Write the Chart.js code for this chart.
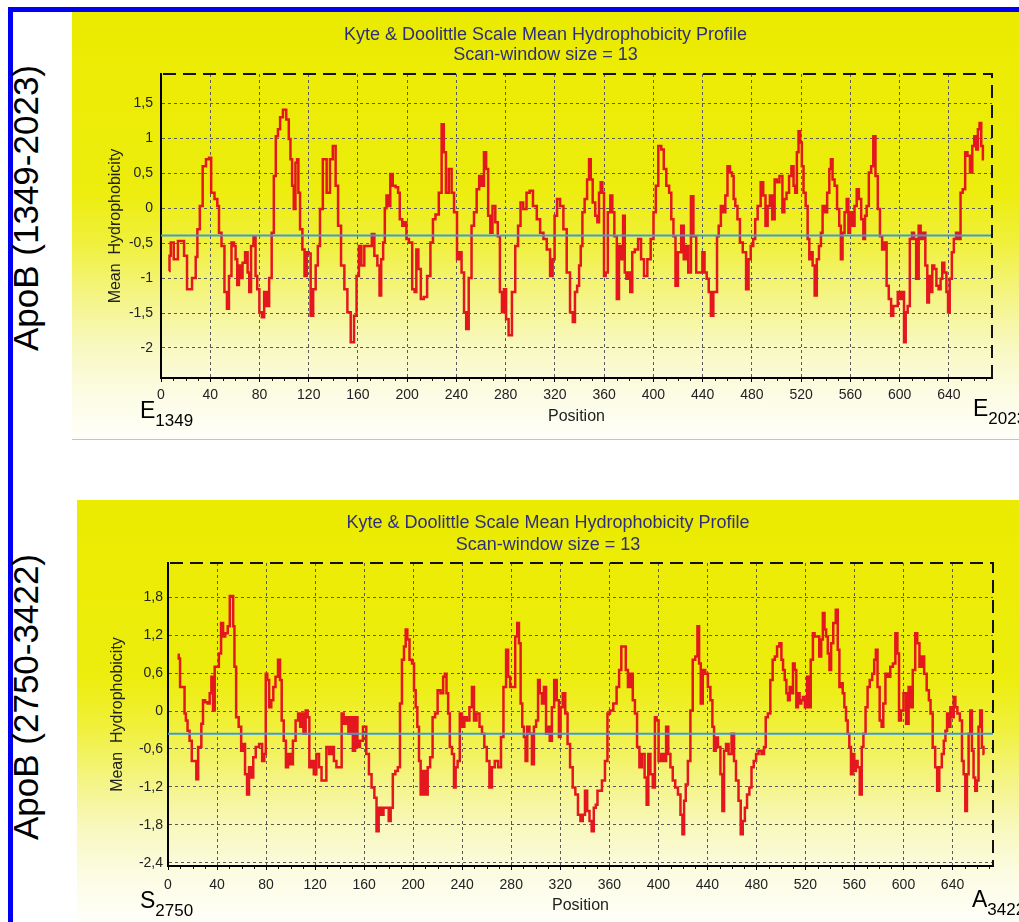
<!DOCTYPE html>
<html>
<head>
<meta charset="utf-8">
<title>Kyte & Doolittle hydrophobicity profiles</title>
<script src="https://cdn.jsdelivr.net/npm/chart.js@4.4.1/dist/chart.umd.min.js"></script>
<style>
  html, body { margin: 0; padding: 0; background: #fff; }
  body { position: relative; width: 1019px; height: 922px; overflow: hidden; font-family: "Liberation Sans", Arial, sans-serif; }
  .blue { position: absolute; background: #0000f2; }
  .panel { position: absolute; background: linear-gradient(to bottom, #ebeb00 0%, #eded0e 42%, #f0f03c 54%, #f4f482 66%, #f8f8c0 78%, #fcfce6 90%, #fffff8 100%); }
  .panel canvas { display: block; }
  .side { position: absolute; width: 340px; height: 40px; line-height: 40px; text-align: center; font-size: 35px; color: #000; transform: rotate(-90deg); white-space: nowrap; }
  .end { position: absolute; font-size: 23px; line-height: 23px; color: #000; white-space: nowrap; }
  .end sub { font-size: 17px; vertical-align: -8px; }
</style>
</head>
<body>
<div class="blue" style="left:8px;top:7px;width:1011px;height:5px;"></div>
<div class="blue" style="left:8px;top:7px;width:5px;height:915px;"></div>

<div class="side" style="left:-144px;top:188px;">ApoB (1349-2023)</div>
<div class="side" style="left:-144px;top:677px;">ApoB (2750-3422)</div>

<div class="panel" style="left:72px;top:12px;width:947px;height:427px;"><canvas id="chart1" width="947" height="427"></canvas></div>
<div style="position:absolute;left:72px;top:439px;width:947px;height:1px;background:#c4c4c4;"></div>
<div class="panel" style="left:77px;top:500px;width:942px;height:422px;"><canvas id="chart2" width="942" height="422"></canvas></div>

<div class="end" style="left:140px;top:399px;">E<sub>1349</sub></div>
<div class="end" style="left:973px;top:397px;">E<sub>2023</sub></div>
<div class="end" style="left:140px;top:889px;">S<sub>2750</sub></div>
<div class="end" style="left:972px;top:888px;">A<sub>3422</sub></div>

<script>
// ApoB (1349-2023): positions and mean hydrophobicity (window 13)
const pos1 = [
  6.5, 7.3, 8.6, 12.1, 15.4, 18.1, 19.4, 22.9, 27.5, 28.9,
  30.2, 32.9, 34.8, 38.3, 39.7, 41.8, 45.1, 46.4, 47.8, 50.5,
  52.6, 54.5, 55.9, 58.6, 59.9, 61.3, 62.6, 64.0, 65.3, 67.2,
  69.4, 71.3, 72.1, 74.2, 76.1, 77.5, 78.8, 81.0, 82.9, 84.7,
  86.9, 88.8, 91.0, 92.3, 94.2, 95.8, 97.7, 100.4, 103.1, 104.5,
  105.8, 107.2, 108.5, 109.9, 111.2, 112.0, 113.9, 115.8, 117.4, 119.3,
  120.6, 122.5, 124.7, 126.6, 128.2, 130.1, 132.8, 136.3, 138.2, 140.9,
  142.8, 144.9, 147.6, 150.3, 152.5, 155.7, 157.9, 159.8, 161.7, 163.8,
  166.5,
  170.3, 172.2, 174.4, 177.1, 177.9, 179.8, 181.1, 182.5, 183.8, 185.2,
  187.3, 189.2, 191.9, 193.3, 194.6, 197.3, 198.7, 200.0, 202.7, 205.4,
  206.7, 208.1, 210.0, 212.1, 214.8, 217.5, 220.2, 221.6, 224.3, 227.0,
  228.9, 230.5, 232.4, 235.1, 237.0, 239.1, 241.8, 243.2, 245.1, 247.2,
  248.6, 251.3, 253.2, 255.3, 257.5, 259.4, 261.3, 263.4, 264.8, 266.7,
  268.3, 270.2, 272.9, 274.2, 276.4, 277.5, 279.6, 281.0, 283.7, 286.4,
  289.1, 291.0, 293.1, 295.3, 298.5, 300.4, 303.9, 306.6, 309.3, 312.0,
  314.7, 317.4, 318.8, 320.6, 322.8, 325.5, 328.2, 330.9, 333.6,
  335.4, 337.1, 338.9, 340.3, 341.6, 343.0, 345.2, 347.0, 348.4, 349.7,
  351.6, 353.8, 355.1, 356.5, 357.8, 359.2, 360.5, 361.9, 364.0, 365.9,
  367.3, 369.2, 371.3, 372.7, 374.8, 375.9, 377.5, 378.6, 380.2, 382.1,
  383.5, 386.2, 388.9, 391.0, 393.7, 396.4, 399.1, 401.0, 402.9, 405.0,
  407.7, 409.1, 411.8, 413.7, 415.3, 417.2, 418.6, 421.2, 423.9, 425.3,
  427.2, 429.4, 431.5, 433.4, 436.1, 438.8, 440.7, 442.3, 444.2, 445.6,
  447.7, 449.6, 451.0, 452.3, 453.7, 455.8, 457.7, 459.1, 461.2, 463.1,
  464.5, 465.8, 467.2, 469.3, 471.2, 473.9, 476.6, 477.9, 480.1, 482.0,
  483.3, 486.0, 488.2, 490.1, 491.9, 493.6, 495.5, 497.4, 499.5, 500.9,
  503.8, 505.7, 507.0, 509.2, 511.1, 513.0, 514.6, 515.7, 517.3, 518.4,
  520.0, 521.1, 522.7, 524.6, 525.9, 527.3, 528.6, 530.0, 531.9, 533.5,
  535.4, 536.7, 538.1, 540.0, 542.2, 543.5, 544.8, 546.2, 548.1, 550.2,
  551.6, 552.9, 554.3, 556.2, 557.8, 558.9, 560.5, 562.4, 564.3, 565.9,
  567.8, 569.7, 571.3, 572.4, 574.0, 575.9, 577.8, 579.4, 581.3, 583.2,
  584.8, 586.7, 588.6, 590.2, 592.1, 594.0, 595.6, 597.5, 599.4, 601.5,
  602.9, 604.2, 605.6, 607.4, 609.1, 611.0, 612.3, 614.5, 616.4, 617.7,
  619.9, 621.8, 623.1, 624.5, 625.8, 627.2, 629.0, 630.7, 632.6, 633.9,
  635.3, 637.2, 638.8, 639.8, 641.5, 643.3, 644.7, 646.9, 648.8, 650.1,
  652.3, 654.1, 656.0, 658.2, 659.8, 661.4, 663.0, 664.1, 665.7, 666.8,
  668.4
];
const val1 = [
  -0.90, -0.68, -0.49, -0.73, -0.47, -0.47, -0.68, -1.16, -1.00, -0.70,
  -0.30, 0.03, 0.60, 0.70, 0.72, 0.22, 0.13, 0.03, -0.35, -0.54,
  -1.20, -1.44, -0.97, -0.49, -0.54, -0.73, -1.10, -0.82, -1.00, -0.78,
  -0.63, -0.92, -1.20, -0.54, -0.40, -0.97, -1.16, -1.49, -1.56, -1.20,
  -1.40, -1.00, -0.35, 0.46, 1.03, 1.13, 1.30, 1.41, 1.27, 0.99,
  0.70, 0.32, -0.01, 0.65, 0.70, 0.22, -0.30, -0.59, -0.97, -0.63,
  -0.65, -1.54, -1.16, -0.82, -0.54, -0.01, 0.70, 0.22, 0.70, 0.89,
  0.32, -0.25, -0.82, -1.16, -1.49, -1.92, -1.54, -0.97, -0.54, -0.82,
  -0.54,
  -0.54, -0.37, -0.68, -0.82, -1.25, -0.73, -0.49, 0.00, 0.18, 0.03,
  0.49, 0.32, 0.30, 0.22, -0.16, -0.25, -0.20, -0.44, -0.49, -1.16,
  -1.20, -0.59, -0.87, -1.30, -1.27, -0.97, -0.49, -0.16, -0.09, 0.22,
  1.20, 0.80, 0.22, 0.56, 0.22, -0.06, -0.73, -0.63, -0.92, -1.49,
  -1.73, -1.00, -0.25, -0.06, 0.27, 0.46, 0.32, 0.80, 0.56, -0.11,
  -0.35, 0.03, -0.20, -0.40, -1.20, -1.49, -1.16, -1.59, -1.82, -1.20,
  -0.54, -0.25, 0.08, -0.01, 0.22, 0.25, 0.03, -0.16, -0.35, -0.44,
  -0.59, -0.97, -0.73, -0.11, 0.13, 0.03, -0.30, -0.92, -1.49,
  -1.63, -1.20, -1.11, -0.82, -0.54, -0.06, 0.13, 0.41, 0.70, 0.41,
  0.08, -0.11, -0.20, 0.22, 0.37, 0.22, -0.97, -0.92, -0.06, 0.18,
  -0.06, -0.40, -1.30, -0.54, -0.73, -0.11, -0.92, -1.01, -0.92, -1.20,
  -0.63, -0.59, -0.44, -0.73, -0.97, -0.73, -0.44, -0.06, 0.32, 0.89,
  0.84, 0.56, 0.32, 0.22, -0.16, -0.40, -1.11, -0.63, -0.25, -0.73,
  -0.54, -0.92, 0.17, -0.40, -0.92, -0.92, -0.63, -0.92, -1.01, -1.20,
  -1.54, -1.20, -1.20, -0.40, -0.25, 0.03, -0.06, 0.18, 0.60, 0.51,
  0.46, 0.13, 0.03, -0.16, -0.49, -0.63, -1.16, -0.73, -0.54, -0.44,
  -0.16, 0.03, 0.37, 0.18, -0.25, 0.03, 0.18, -0.16, 0.41, 0.37,
  0.46, -0.06, 0.13, 0.22, 0.46, 0.60, 0.32, 0.22, 0.80, 1.10,
  0.94, 0.60, 0.22, 0.03, -0.44, -0.73, -0.63, -0.82, -1.25, -0.73,
  -0.54, -0.35, 0.03, -0.06, 0.22, 0.56, 0.70, 0.41, 0.32, -0.01,
  -0.25, -0.73, -0.35, -0.06, 0.13, -0.35, -0.06, -0.25, 0.03, 0.27,
  0.13, -0.16, -0.44, -0.11, 0.03, 0.51, 0.60, 1.03, 0.46, -0.01,
  -0.40, -0.59, -0.49, -1.11, -1.30, -1.54, -1.40, -1.40, -1.20, -1.30,
  -1.20, -1.92, -1.49, -1.40, -0.44, -0.35, -0.44, -1.01, -0.25, -0.44,
  -0.35, -0.82, -1.35, -0.97, -1.20, -0.82, -0.87, -1.11, -1.16, -1.01,
  -0.78, -0.92, -1.20, -1.49, -1.01, -0.63, -0.44, -0.35, -0.44, 0.22,
  0.27, 0.80, 0.75, 0.51, 0.89, 1.03, 0.84, 1.13, 1.22, 0.89,
  0.70
];

// ApoB (2750-3422)
const pos2 = [
  7.9, 9.6, 10.1, 12.8, 14.2, 15.0, 16.9, 18.3, 20.5, 22.4,
  23.8, 25.4, 26.5, 27.9, 29.2, 31.4, 33.3, 34.7, 36.1, 37.4,
  38.8, 40.7, 42.3, 44.3, 45.6, 47.8, 49.7, 51.1, 52.5, 53.8,
  54.6, 56.6, 58.7, 60.7, 62.0, 63.7, 65.3, 66.9, 68.9, 70.2,
  73.0, 75.7, 77.9, 79.2, 80.3, 81.7, 83.3, 85.2, 86.6, 88.8,
  90.7, 92.1, 93.4, 95.4, 97.0, 98.9, 100.8, 103.0, 105.2, 107.1,
  108.5, 109.8, 111.2, 113.4, 114.5, 116.1, 118.0, 119.9, 122.1, 124.3,
  126.2, 128.1, 130.3, 132.5, 134.4, 136.3, 138.5, 140.7, 142.6, 144.0,
  146.2, 148.1, 150.0, 151.6, 153.6, 155.5, 157.7, 160.4, 163.1,
  164.7, 167.4, 169.3, 170.9, 172.8, 174.7, 176.9, 179.1, 181.0, 182.3,
  184.5, 186.4, 188.6, 189.9, 191.8, 193.2, 194.6, 195.9, 198.1, 200.0,
  201.4, 202.7, 204.1, 205.4, 206.8, 209.0, 210.9, 212.8, 214.9, 216.8,
  219.0, 220.9, 223.6, 225.3, 226.4, 228.0, 229.1, 230.7, 232.6, 234.0,
  235.3, 237.2, 238.9, 240.8, 242.7, 244.8, 247.0, 248.9, 250.3, 253.0,
  255.2, 257.1, 259.0, 261.1, 263.3, 265.2, 267.9, 270.7, 272.6, 274.7,
  276.9, 278.0, 280.2, 282.3, 284.2, 285.6, 287.0, 288.3, 289.7, 291.0,
  292.4, 293.8, 295.9, 297.8, 299.2, 301.4, 302.4, 304.1, 306.0, 307.3,
  309.5, 310.6, 312.2, 314.1, 316.0, 318.2, 319.6, 320.9, 323.1, 325.0,
  326.9, 329.1,
  331.2, 333.4, 335.5, 337.4, 339.3, 341.0, 342.9, 344.8, 346.4, 348.3,
  349.7, 351.0, 352.9, 355.1, 357.8, 359.2, 361.9, 364.6, 367.3, 368.7,
  370.9, 372.8, 374.1, 376.3, 378.2, 380.1, 381.7, 383.6, 385.5, 387.7,
  389.9, 391.0, 392.6, 394.5, 396.4, 398.0, 399.1, 401.3, 403.5, 405.4,
  407.3, 408.9, 410.8, 412.7, 414.9, 417.1, 419.0, 420.3, 421.7, 423.0,
  425.2, 427.1, 429.0, 431.2, 432.6, 433.9, 435.3, 437.2, 439.3, 441.5,
  443.4, 444.8, 446.1, 447.5, 449.7, 451.6, 452.9, 454.3, 456.2, 458.4,
  461.1, 462.4, 464.3, 466.5, 467.9, 469.8, 471.4, 473.3, 475.2, 476.8,
  478.8, 480.7, 482.8, 485.5, 486.9, 488.3, 490.4, 492.3, 494.2, 495.9,
  497.8,
  499.7, 501.1, 502.4, 503.8, 505.1, 506.5, 507.8, 509.2, 510.5, 511.9,
  513.2, 514.6, 515.9, 517.3, 518.6, 520.5, 522.2, 523.2, 525.4, 526.8,
  528.1, 530.3, 532.2, 533.5, 534.9, 536.2, 537.6, 538.9, 540.3, 541.6,
  543.8, 545.7, 547.0, 548.4, 549.7, 551.1, 552.4, 553.8, 555.1, 556.5,
  557.8, 559.2, 560.5, 561.9, 563.2, 565.4, 566.5, 568.1, 570.0, 571.4,
  573.5, 575.4, 576.8, 578.1, 579.5, 581.6, 582.7, 584.3, 586.2, 588.1,
  590.3, 592.4, 594.3, 595.7, 597.0, 598.9, 601.1, 603.2, 605.1, 606.5,
  608.6, 610.5, 611.9, 614.1, 615.9, 617.8, 620.0, 621.4, 622.7, 624.9,
  626.8, 628.1, 630.3, 632.2, 633.5, 634.9, 636.2, 637.6, 638.9, 640.3,
  641.6, 643.0, 644.9, 647.0, 648.4, 649.7, 651.1, 652.4, 653.8, 655.1,
  656.5, 657.8, 659.2, 660.5, 661.9, 663.2, 664.6, 665.9
];
const val2 = [
  0.89, 0.83, 0.38, 0.38, -0.04, -0.15, -0.31, -0.47, -0.79, -0.79,
  -1.08, -0.57, -0.57, -0.20, 0.17, 0.14, 0.12, 0.28, 0.54, 0.01,
  0.70, 0.70, 0.91, 1.39, 1.18, 1.23, 1.34, 1.82, 1.82, 1.34,
  0.70, -0.10, -0.25, -0.63, -0.52, -1.00, -1.32, -0.89, -1.05, -0.73,
  -0.57, -0.52, -0.79, -0.68, 0.59, 0.49, 0.06, 0.17, 0.38, 0.54,
  0.81, 0.49, -0.15, -0.47, -0.89, -0.68, -0.84, -0.47, -0.15, -0.04,
  -0.25, -0.04, -0.36, 0.01, -0.10, -0.89, -0.79, -1.00, -0.68, -0.89,
  -1.10, -1.10, -0.57, -0.68, -0.57, -0.79, -0.89, -0.89, -0.04, -0.20,
  -0.10, -0.36, -0.10, -0.63, -0.10, -0.57, -0.47, -0.25, -0.68,
  -1.00, -1.21, -1.37, -1.90, -1.53, -1.64, -1.53, -1.53, -1.74, -1.53,
  -1.00, -0.95, -0.89, 0.12, 0.81, 1.02, 1.29, 1.13, 0.81, 0.75,
  0.33, 0.06, -0.25, -0.79, -1.32, -0.95, -1.32, -0.89, -0.73, -0.10,
  -0.04, 0.33, 0.28, 0.54, 0.59, 0.28, -0.04, -0.57, -0.68, -1.21,
  -0.89, -0.79, -0.04, -0.25, -0.10, -0.15, 0.06, 0.38, -0.15, -0.04,
  -0.25, -0.36, -0.57, -0.79, -1.21, -0.89, -0.79, -0.89, -0.41, 0.38,
  0.97, 0.54, 0.38, 0.38, 1.18, 1.39, 1.07, 0.12, -0.25, -0.41,
  -0.79, -0.25, -0.36, -0.84, -0.25, -0.15, 0.49, 0.28, 0.12, 0.38,
  -0.36, -0.25, -0.47, 0.06, 0.49, 0.17, -0.41, 0.06, 0.28, -0.04,
  -0.52, -0.89,
  -1.21, -1.32, -1.64, -1.74, -1.64, -1.26, -1.58, -1.74, -1.90, -1.53,
  -1.48, -1.26, -1.26, -1.10, -0.79, -0.04, 0.01, 0.12, 0.38, 0.65,
  1.02, 1.02, 0.65, 0.38, 0.59, 0.17, -0.04, -0.57, -0.89, -0.68,
  -1.05, -1.48, -0.68, -1.00, -1.21, -0.10, -0.15, -0.79, -0.68, -0.79,
  -0.25, -0.68, -0.89, -1.10, -1.21, -1.32, -1.64, -1.95, -1.42, -1.16,
  -0.79, 0.01, 0.81, 0.86, 1.34, 0.75, 0.12, 0.65, 0.59, 0.38,
  0.17, -0.25, -0.63, -0.42, -0.57, -1.00, -1.58, -0.63, -0.52, -0.68,
  -0.36, -0.79, -1.10, -1.42, -1.95, -1.74, -1.53, -1.32, -1.21, -0.89,
  -0.79, -0.68, -0.63, -0.68, -0.57, -0.10, -0.04, 0.49, 0.81, 0.86,
  1.02,
  1.07, 0.81, 0.65, 0.49, 0.28, 0.17, 0.38, 0.28, 0.75, 0.65,
  0.06, 0.28, 0.12, 0.17, 0.22, 0.06, 0.54, 0.06, 0.81, 1.23,
  1.18, 1.18, 0.86, 1.13, 1.55, 1.29, 1.18, 0.91, 0.65, 1.07,
  1.39, 1.60, 0.97, 0.38, 0.44, 0.28, 0.06, -0.15, -0.36, -0.57,
  -1.00, -0.68, -0.95, -0.79, -0.89, -1.32, -0.57, -0.36, 0.06, 0.38,
  0.49, 0.59, 0.81, 0.97, 0.38, -0.15, -0.25, 0.12, 0.59, 0.54,
  0.70, 0.75, 1.23, 0.91, -0.15, 0.01, 0.28, -0.20, 0.38, 0.06,
  0.65, 1.23, 1.07, 0.70, 0.86, 0.59, 0.33, 0.17, -0.04, -0.57,
  -0.89, -1.26, -0.89, -0.68, -0.47, -0.31, -0.04, -0.25, 0.06, -0.10,
  0.22, 0.06, -0.04, -0.15, -0.79, -1.00, -1.58, -1.00, -0.36, 0.01,
  -0.63, -1.05, -1.26, -1.10, -0.25, 0.01, -0.57, -0.68
];

// average hydrophobicity (blue line) for each profile
const avg1 = -0.39;
const avg2 = -0.36;

// tick labels
const xTicks = [0, 40, 80, 120, 160, 200, 240, 280, 320, 360, 400, 440, 480, 520, 560, 600, 640];
const yTicks1 = [-2, -1.5, -1, -0.5, 0, 0.5, 1, 1.5];
const yTicks2 = [-2.4, -1.8, -1.2, -0.6, 0, 0.6, 1.2, 1.8];

const titleLines = ["Kyte & Doolittle Scale Mean Hydrophobicity Profile", "Scan-window size = 13"];

Chart.defaults.font.family = '"Liberation Sans", Arial, sans-serif';
Chart.defaults.color = '#222';

// decimal comma like the original program
function fmt(v) {
    const r = Math.round(v * 10) / 10;
    return (r === 0 ? 0 : r).toString().replace('.', ',');
}

// dashed top/right frame and small ticks on the position axis
const framePlugin = {
    id: 'frame',
    afterDraw(chart) {
        const ctx = chart.ctx;
        const a = chart.chartArea;
        const x = chart.scales.x;
        ctx.save();
        ctx.strokeStyle = '#111';
        ctx.lineWidth = 1;
        for (let v = 10; v < x.max; v += 10) {
            if (v % 40 === 0) continue;
            const px = Math.round(x.getPixelForValue(v)) + 0.5;
            ctx.beginPath();
            ctx.moveTo(px, a.bottom);
            ctx.lineTo(px, a.bottom + 3);
            ctx.stroke();
        }
        ctx.lineWidth = 2;
        ctx.setLineDash([13, 7]);
        ctx.beginPath();
        ctx.moveTo(a.left + 2, a.top);
        ctx.lineTo(a.right, a.top);
        ctx.lineTo(a.right, a.bottom);
        ctx.stroke();
        ctx.restore();
    }
};

function drawProfile(canvasId, c) {
    const ctx = document.getElementById(canvasId).getContext('2d');
    return new Chart(ctx, {
        type: 'line',
        data: {
            datasets: [{
                label: 'Average',
                data: [{ x: 0, y: c.avg }, { x: c.xMax, y: c.avg }],
                borderColor: '#3d9cd8',
                borderWidth: 2,
                pointRadius: 0,
                xAxisID: 'x',
                yAxisID: 'y'
            }, {
                label: 'Mean Hydrophobicity',
                data: c.pos.map((p, i) => ({ x: p, y: c.vals[i] })),
                borderColor: '#e4161e',
                borderWidth: 2.5,
                pointRadius: 0,
                stepped: 'middle',
                xAxisID: 'x',
                yAxisID: 'y'
            }]
        },
        options: {
            responsive: false,
            animation: false,
            devicePixelRatio: 1,
            layout: { padding: 0 },
            plugins: {
                legend: { display: false },
                tooltip: { enabled: false },
                title: {
                    display: true,
                    text: titleLines,
                    color: '#2e2e7c',
                    font: { size: 18, weight: 'normal', lineHeight: c.titleLine },
                    padding: { top: c.titleTop, bottom: c.titleBottom }
                }
            },
            scales: {
                x: {
                    type: 'linear',
                    min: 0,
                    max: c.xMax,
                    afterBuildTicks: s => { s.ticks = xTicks.map(v => ({ value: v })); },
                    afterFit: s => { s.height = c.xHeight; },
                    ticks: { font: { size: 14 }, color: '#222', padding: c.xTickPad, maxRotation: 0, autoSkip: false },
                    grid: { color: '#5a5a5a', lineWidth: 1, drawTicks: true, tickLength: 4, tickColor: '#000' },
                    border: { display: true, color: '#000', width: 2, dash: [3, 3] },
                    title: { display: true, text: 'Position', font: { size: 16 }, color: '#222', padding: { top: 0, bottom: c.xTitlePad } }
                },
                y: {
                    type: 'linear',
                    min: c.yMin,
                    max: c.yMax,
                    afterBuildTicks: s => { s.ticks = c.yTicks.map(v => ({ value: v })); },
                    afterFit: s => { s.width = c.yWidth; },
                    ticks: { font: { size: 14 }, color: '#222', padding: c.yTickPad, callback: v => fmt(v) },
                    grid: { color: '#5a5a5a', lineWidth: 1, drawTicks: false },
                    border: { display: true, color: '#000', width: 2, dash: [3, 3] },
                    title: { display: true, text: 'Mean  Hydrophobicity', font: { size: 16 }, color: '#222', padding: { top: c.yTitlePad, bottom: 0 } }
                },
                // empty axis that only reserves the gap right of the plot
                yr: {
                    type: 'linear',
                    position: 'right',
                    ticks: { display: false },
                    grid: { display: false },
                    border: { display: false },
                    afterFit: s => { s.width = c.padRight; }
                }
            }
        },
        plugins: [framePlugin]
    });
}

drawProfile('chart1', {
    pos: pos1, vals: val1, avg: avg1, xMax: 675,
    yMin: -2.43, yMax: 1.92, yTicks: yTicks1,
    titleLine: 20 / 18, titleTop: 13, titleBottom: 9,
    xHeight: 61, xTickPad: 5, xTitlePad: 13,
    yWidth: 89, yTickPad: 8, yTitlePad: 34, padRight: 27
});

drawProfile('chart2', {
    pos: pos2, vals: val2, avg: avg2, xMax: 673,
    yMin: -2.45, yMax: 2.34, yTicks: yTicks2,
    titleLine: 22 / 18, titleTop: 12, titleBottom: 7,
    xHeight: 56, xTickPad: 7, xTitlePad: 7,
    yWidth: 91, yTickPad: 5, yTitlePad: 31, padRight: 26
});
</script>
</body>
</html>
